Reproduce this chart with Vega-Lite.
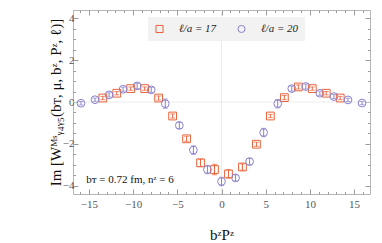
{
  "$schema": "https://vega.github.io/schema/vega-lite/v6.json",
  "width": 297,
  "height": 184,
  "autosize": {"type": "none"},
  "padding": {"left": 73, "top": 10, "right": 12, "bottom": 49},
  "config": {
    "view": {"stroke": "#b5b5b5", "strokeWidth": 1},
    "font": "Liberation Serif",
    "axis": {
      "grid": false,
      "domain": false,
      "labelFont": "Liberation Serif",
      "labelFontSize": 11,
      "labelColor": "#555555",
      "tickColor": "#9a9a9a",
      "titleFont": "Liberation Serif",
      "titleColor": "#111111",
      "titleFontWeight": "normal"
    }
  },
  "datasets": {
    "pts": [
      {"x": -13.43, "y": 0.19, "e": 0.08, "s": "ℓ/a = 17"},
      {"x": -11.85, "y": 0.42, "e": 0.08, "s": "ℓ/a = 17"},
      {"x": -10.27, "y": 0.64, "e": 0.08, "s": "ℓ/a = 17"},
      {"x": -8.69, "y": 0.64, "e": 0.08, "s": "ℓ/a = 17"},
      {"x": -7.11, "y": 0.19, "e": 0.1, "s": "ℓ/a = 17"},
      {"x": -5.53, "y": -0.67, "e": 0.1, "s": "ℓ/a = 17"},
      {"x": -3.95, "y": -1.76, "e": 0.12, "s": "ℓ/a = 17"},
      {"x": -2.37, "y": -2.91, "e": 0.18, "s": "ℓ/a = 17"},
      {"x": -0.79, "y": -3.23, "e": 0.25, "s": "ℓ/a = 17"},
      {"x": 0.79, "y": -3.44, "e": 0.2, "s": "ℓ/a = 17"},
      {"x": 2.37, "y": -3.11, "e": 0.15, "s": "ℓ/a = 17"},
      {"x": 3.95, "y": -2.02, "e": 0.1, "s": "ℓ/a = 17"},
      {"x": 5.53, "y": -0.67, "e": 0.08, "s": "ℓ/a = 17"},
      {"x": 7.11, "y": 0.21, "e": 0.1, "s": "ℓ/a = 17"},
      {"x": 8.69, "y": 0.72, "e": 0.1, "s": "ℓ/a = 17"},
      {"x": 10.27, "y": 0.64, "e": 0.08, "s": "ℓ/a = 17"},
      {"x": 11.85, "y": 0.42, "e": 0.08, "s": "ℓ/a = 17"},
      {"x": 13.43, "y": 0.19, "e": 0.08, "s": "ℓ/a = 17"},
      {"x": -15.9, "y": -0.06, "e": 0.08, "s": "ℓ/a = 20"},
      {"x": -14.31, "y": 0.11, "e": 0.08, "s": "ℓ/a = 20"},
      {"x": -12.72, "y": 0.34, "e": 0.1, "s": "ℓ/a = 20"},
      {"x": -11.13, "y": 0.61, "e": 0.1, "s": "ℓ/a = 20"},
      {"x": -9.54, "y": 0.77, "e": 0.12, "s": "ℓ/a = 20"},
      {"x": -7.95, "y": 0.58, "e": 0.12, "s": "ℓ/a = 20"},
      {"x": -6.36, "y": -0.08, "e": 0.22, "s": "ℓ/a = 20"},
      {"x": -4.77, "y": -1.12, "e": 0.15, "s": "ℓ/a = 20"},
      {"x": -3.18, "y": -2.3, "e": 0.2, "s": "ℓ/a = 20"},
      {"x": -1.59, "y": -3.23, "e": 0.2, "s": "ℓ/a = 20"},
      {"x": 0, "y": -3.8, "e": 0.2, "s": "ℓ/a = 20"},
      {"x": 1.59, "y": -3.63, "e": 0.15, "s": "ℓ/a = 20"},
      {"x": 3.18, "y": -2.85, "e": 0.15, "s": "ℓ/a = 20"},
      {"x": 4.77, "y": -1.46, "e": 0.2, "s": "ℓ/a = 20"},
      {"x": 6.36, "y": -0.08, "e": 0.2, "s": "ℓ/a = 20"},
      {"x": 7.95, "y": 0.64, "e": 0.12, "s": "ℓ/a = 20"},
      {"x": 9.54, "y": 0.74, "e": 0.12, "s": "ℓ/a = 20"},
      {"x": 11.13, "y": 0.42, "e": 0.1, "s": "ℓ/a = 20"},
      {"x": 12.72, "y": 0.26, "e": 0.1, "s": "ℓ/a = 20"},
      {"x": 14.31, "y": 0.1, "e": 0.08, "s": "ℓ/a = 20"},
      {"x": 15.9, "y": -0.05, "e": 0.08, "s": "ℓ/a = 20"}
    ]
  },
  "layer": [
    {
      "data": {"values": [{"v": 0}]},
      "mark": {"type": "rule", "color": "#ececec", "strokeWidth": 1},
      "encoding": {
        "x": {
          "field": "v", "type": "quantitative",
          "scale": {"domain": [-16.8, 16.8], "nice": false, "zero": false},
          "axis": {
            "orient": "top", "title": null, "labels": false,
            "values": [-16,-15,-14,-13,-12,-11,-10,-9,-8,-7,-6,-5,-4,-3,-2,-1,0,1,2,3,4,5,6,7,8,9,10,11,12,13,14,15,16],
            "tickSize": {"condition": {"test": "datum.value % 5 === 0", "value": -5}, "value": -2.5}
          }
        }
      }
    },
    {
      "data": {"values": [{"v": 0}]},
      "mark": {"type": "rule", "color": "#ececec", "strokeWidth": 1},
      "encoding": {
        "y": {
          "field": "v", "type": "quantitative",
          "scale": {"domain": [-4.4, 4.4], "nice": false, "zero": false},
          "axis": {
            "orient": "right", "title": null, "labels": false,
            "values": [-4,-3.5,-3,-2.5,-2,-1.5,-1,-0.5,0,0.5,1,1.5,2,2.5,3,3.5,4],
            "tickSize": {"condition": {"test": "abs(datum.value % 2) < 0.001", "value": -5}, "value": -2.5}
          }
        }
      }
    },
    {
      "data": {"name": "pts"},
      "transform": [
        {"filter": "datum.s === 'ℓ/a = 17'"},
        {"calculate": "datum.y - datum.e", "as": "lo"},
        {"calculate": "datum.y + datum.e", "as": "hi"}
      ],
      "mark": {"type": "errorbar", "ticks": {"size": 5}, "thickness": 1, "color": "#ea633b"},
      "encoding": {
        "x": {"field": "x", "type": "quantitative", "axis": null},
        "y": {"field": "lo", "type": "quantitative", "axis": null},
        "y2": {"field": "hi"}
      }
    },
    {
      "data": {"name": "pts"},
      "transform": [
        {"filter": "datum.s === 'ℓ/a = 20'"},
        {"calculate": "datum.y - datum.e", "as": "lo"},
        {"calculate": "datum.y + datum.e", "as": "hi"}
      ],
      "mark": {"type": "errorbar", "ticks": {"size": 5}, "thickness": 1, "color": "#8a82cb"},
      "encoding": {
        "x": {"field": "x", "type": "quantitative", "axis": null},
        "y": {"field": "lo", "type": "quantitative", "axis": null},
        "y2": {"field": "hi"}
      }
    },
    {
      "data": {"name": "pts"},
      "mark": {"type": "point", "filled": false, "strokeWidth": 1, "opacity": 1, "size": 60},
      "encoding": {
        "x": {
          "field": "x", "type": "quantitative",
          "axis": {
            "orient": "bottom", "title": "bᶻPᶻ", "titleFontSize": 15, "titlePadding": 18,
            "values": [-16,-15,-14,-13,-12,-11,-10,-9,-8,-7,-6,-5,-4,-3,-2,-1,0,1,2,3,4,5,6,7,8,9,10,11,12,13,14,15,16],
            "labelExpr": "datum.value % 5 === 0 ? datum.label : ''",
            "labelPadding": 9,
            "tickSize": {"condition": {"test": "datum.value % 5 === 0", "value": -5}, "value": -2.5}
          }
        },
        "y": {
          "field": "y", "type": "quantitative",
          "axis": {
            "orient": "left", "title": "Im [Wᴹˢᵧ₄ᵧ₅(bᴛ, μ, bᶻ, Pᶻ, ℓ)]", "titleFontSize": 15, "titlePadding": -1,
            "values": [-4,-3.5,-3,-2.5,-2,-1.5,-1,-0.5,0,0.5,1,1.5,2,2.5,3,3.5,4],
            "format": ".0f",
            "labelExpr": "abs(datum.value % 2) < 0.001 ? datum.label : ''",
            "labelPadding": 4,
            "tickSize": {"condition": {"test": "abs(datum.value % 2) < 0.001", "value": -5}, "value": -2.5}
          }
        },
        "color": {"field": "s", "type": "nominal",
          "scale": {"domain": ["ℓ/a = 17", "ℓ/a = 20"], "range": ["#ea633b", "#8a82cb"]},
          "legend": {
            "orient": "none", "legendX": 75, "legendY": 7, "direction": "horizontal",
            "title": null, "fillColor": "#f2f2f2", "padding": 6,
            "labelFont": "Liberation Serif", "labelFontSize": 11, "labelFontStyle": "italic", "labelColor": "#222222",
            "columnPadding": 18, "labelOffset": 14, "symbolStrokeWidth": 1, "symbolSize": 50
          }
        },
        "shape": {"field": "s", "type": "nominal",
          "scale": {"domain": ["ℓ/a = 17", "ℓ/a = 20"], "range": ["square", "circle"]}}
      }
    },
    {
      "data": {"values": [{"t": "bᴛ = 0.72 fm,  nᶻ = 6"}]},
      "mark": {"type": "text", "align": "left", "baseline": "middle", "fontSize": 11, "font": "Liberation Serif", "color": "#111111"},
      "encoding": {
        "x": {"datum": -15.3, "type": "quantitative", "axis": null},
        "y": {"datum": -3.75, "type": "quantitative", "axis": null},
        "text": {"field": "t"}
      }
    }
  ],
  "resolve": {"axis": {"x": "independent", "y": "independent"}}
}
